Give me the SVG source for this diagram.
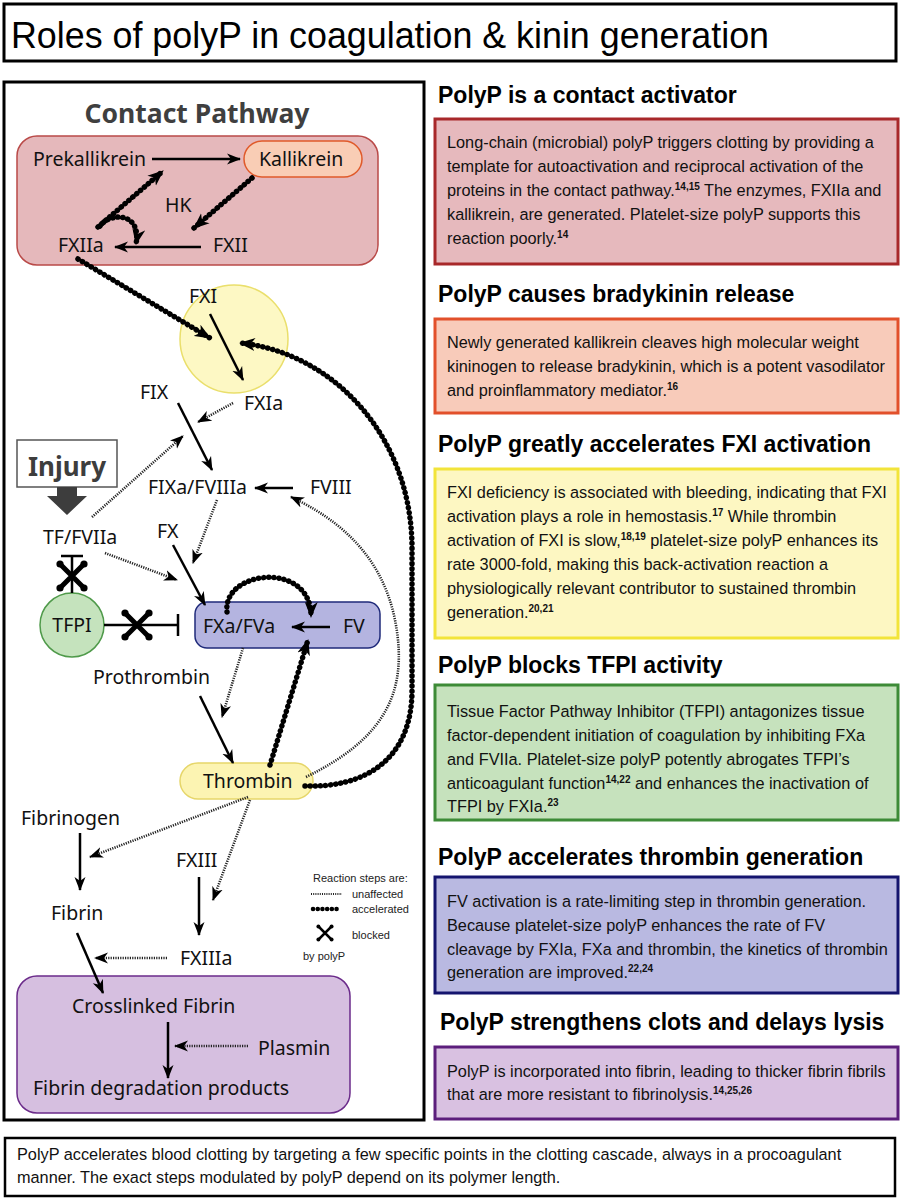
<svg xmlns="http://www.w3.org/2000/svg" xmlns:xlink="http://www.w3.org/1999/xlink" width="900" height="1200" viewBox="0 0 900 1200">
<defs>
<style>
.lbl{font-family:"Noto Sans","Open Sans",sans-serif;font-size:19.5px;fill:#111}
.hd{font-family:"Liberation Sans",Arial,sans-serif;font-size:23px;font-weight:bold;fill:#000}
.bd{font-family:"Liberation Sans",Arial,sans-serif;font-size:16.3px;fill:#111}
.sup{font-size:10px;font-weight:bold}
.sol{stroke:#000;stroke-width:2.5;fill:none;marker-end:url(#ah)}
.una{stroke:#222;stroke-width:2.6;stroke-dasharray:1.2 1.2;fill:none;marker-end:url(#ah)}
.acc{stroke:#000;stroke-width:5.5;stroke-dasharray:0.1 5;stroke-linecap:round;fill:none;marker-end:url(#ahb)}
.inh{stroke:#000;stroke-width:2.5;fill:none}
.leg{font-family:"Liberation Sans",Arial,sans-serif;font-size:11px;fill:#222}
</style>
<marker id="ah" markerUnits="userSpaceOnUse" markerWidth="14" markerHeight="12" viewBox="0 0 14 12" refX="13" refY="6" orient="auto">
<path d="M0,0.5 L14,6 L0,11.5 L4,6 z" fill="#000"/>
</marker>
<marker id="ahb" markerUnits="userSpaceOnUse" markerWidth="16" markerHeight="14" viewBox="0 0 16 14" refX="15" refY="7" orient="auto">
<path d="M0,0.5 L16,7 L0,13.5 L4.5,7 z" fill="#000"/>
</marker>
<g id="xm">
<path d="M-12,-12 L12,12 M12,-12 L-12,12" stroke="#000" stroke-width="5" stroke-linecap="round"/>
<circle cx="-12" cy="-12" r="3.6" fill="#000"/><circle cx="12" cy="12" r="3.6" fill="#000"/>
<circle cx="12" cy="-12" r="3.6" fill="#000"/><circle cx="-12" cy="12" r="3.6" fill="#000"/>
</g>
</defs>
<rect width="900" height="1200" fill="#fff"/>

<g id="title">
<rect x="4" y="4" width="892" height="57" fill="#fff" stroke="#000" stroke-width="3"/>
<text x="11" y="48" font-family="Liberation Sans,Arial,sans-serif" font-size="36" textLength="758" lengthAdjust="spacingAndGlyphs" fill="#000">Roles of polyP in coagulation &amp; kinin generation</text>
</g>

<g id="left-panel">
<rect x="4" y="82" width="420" height="1038" fill="#fff" stroke="#000" stroke-width="3"/>
<text x="197" y="123" text-anchor="middle" font-family="Noto Sans,Open Sans,sans-serif" font-size="26.5" font-weight="bold" fill="#3f3f3f">Contact Pathway</text>
</g>

<g id="contact-box"><rect x="17" y="136" width="361" height="129" rx="20" fill="#e5b8bb" stroke="#b94a48" stroke-width="1.5"/></g>
<g id="fibrin-box"><rect x="17" y="976" width="333" height="137" rx="20" fill="#d6bfe0" stroke="#6b2b8a" stroke-width="1.5"/></g>

<g id="prekallikrein"><text class="lbl" x="33" y="166">Prekallikrein</text></g>
<g id="kallikrein"><rect x="244" y="141" width="118" height="36" rx="18" fill="#f9cdb5" stroke="#e05a2a" stroke-width="1.5"/><text class="lbl" x="259" y="166">Kallikrein</text></g>
<g id="hk"><text class="lbl" x="165" y="212">HK</text></g>
<g id="fxiia"><text class="lbl" x="58" y="252">FXIIa</text></g>
<g id="fxii"><text class="lbl" x="213" y="252">FXII</text></g>
<g id="fxi"><circle cx="234" cy="339" r="54" fill="#fdf8c4" stroke="#eadf6c" stroke-width="1.5"/><text class="lbl" x="189" y="303">FXI</text></g>
<g id="fxia"><text class="lbl" x="244" y="410">FXIa</text></g>
<g id="fix"><text class="lbl" x="140" y="399">FIX</text></g>
<g id="injury">
<rect x="17" y="440" width="100" height="47" fill="#fff" stroke="#555" stroke-width="1.5"/>
<text x="67" y="476" text-anchor="middle" font-family="Noto Sans,Open Sans,sans-serif" font-size="26" font-weight="bold" fill="#3d3d3d">Injury</text>
<polygon points="57,487 77,487 77,496 87,496 67,515 47,496 57,496" fill="#3d3d3d"/>
</g>
<g id="fixa-fviiia"><text class="lbl" x="148" y="494">FIXa/FVIIIa</text></g>
<g id="fviii"><text class="lbl" x="310" y="494">FVIII</text></g>
<g id="tf-fviia"><text class="lbl" x="43" y="544">TF/FVIIa</text></g>
<g id="fx"><text class="lbl" x="157" y="538">FX</text></g>
<g id="tfpi"><circle cx="72" cy="625" r="32" fill="#c5e3bd" stroke="#4f9a4a" stroke-width="1.5"/><text class="lbl" x="72" y="632" text-anchor="middle">TFPI</text></g>
<g id="fxa-fva"><rect x="195" y="602" width="185" height="46" rx="12" fill="#b4b4e0" stroke="#1f2a7a" stroke-width="1.5"/><text class="lbl" x="203" y="633">FXa/FVa</text></g>
<g id="fv"><text class="lbl" x="343" y="633">FV</text></g>
<g id="prothrombin"><text class="lbl" x="93" y="684">Prothrombin</text></g>
<g id="thrombin"><rect x="180" y="763" width="133" height="36" rx="18" fill="#fcf4b2" stroke="#e6d66a" stroke-width="1.5"/><text class="lbl" x="203" y="788">Thrombin</text></g>
<g id="fibrinogen"><text class="lbl" x="21" y="825">Fibrinogen</text></g>
<g id="fxiii"><text class="lbl" x="176" y="867">FXIII</text></g>
<g id="fibrin"><text class="lbl" x="51" y="920">Fibrin</text></g>
<g id="fxiiia"><text class="lbl" x="180" y="965">FXIIIa</text></g>
<g id="crosslinked-fibrin"><text class="lbl" x="72" y="1013">Crosslinked Fibrin</text></g>
<g id="plasmin"><text class="lbl" x="258" y="1055">Plasmin</text></g>
<g id="fdp"><text class="lbl" x="33" y="1095">Fibrin degradation products</text></g>

<g id="connectors">
<path class="sol" d="M152,159 L240,159"/>
<path class="sol" d="M201,247 L115,247"/>
<path class="acc" d="M98,227 L163,171"/>
<path class="acc" d="M252,178 L194,228"/>
<path class="acc" d="M100,226 C110,212 142,212 136,244"/>
<path class="acc" d="M78,259 L210,338"/>
<path class="sol" d="M210,314 L243,380"/>
<path class="acc" d="M305,786 C362,788 412,762 412,690 L412,545 C410,432 330,352 240,343"/>
<path class="una" d="M233,403 L198,422"/>
<path class="sol" d="M178,403 L212,470"/>
<path class="una" d="M92,517 L183,436"/>
<path class="sol" d="M293,488 L255,488"/>
<path class="una" d="M306,777 C378,742 404,700 398,640 C392,580 362,530 291,497"/>
<path class="una" d="M217,500 L193,563"/>
<path class="sol" d="M173,545 L205,605"/>
<path class="una" d="M105,553 L177,580"/>
<path class="sol" d="M330,627 L292,627"/>
<path class="acc" d="M227,612 C222,570 312,560 311,617"/>
<path class="acc" d="M270,765 L308,640"/>
<path class="una" d="M243,648 L222,717"/>
<path class="sol" d="M200,696 L233,763"/>
<path class="una" d="M248,797 L90,857"/>
<path class="una" d="M250,800 L213,900"/>
<path class="sol" d="M80,833 L80,890"/>
<path class="sol" d="M199,877 L199,935"/>
<path class="una" d="M167,958 L95,958"/>
<path class="sol" d="M77,933 L103,993"/>
<path class="sol" d="M168,1022 L168,1078"/>
<path class="una" d="M248,1046 L175,1046"/>
<path class="inh" d="M72,593 L72,556 M61,556 L83,556"/>
<path class="inh" d="M104,625 L178,625 M178,614 L178,636"/>
<use xlink:href="#xm" href="#xm" x="72" y="576"/>
<use xlink:href="#xm" href="#xm" x="137" y="625"/>
</g>

<g id="legend">
<text class="leg" x="313" y="882">Reaction steps are:</text>
<path d="M311,894 L342,894" stroke="#222" stroke-width="2" stroke-dasharray="1 1.2"/>
<text class="leg" x="352" y="898">unaffected</text>
<path d="M313,909 L341,909" stroke="#000" stroke-width="4.5" stroke-dasharray="0.1 4.6" stroke-linecap="round"/>
<text class="leg" x="352" y="913">accelerated</text>
<use xlink:href="#xm" href="#xm" transform="translate(325,933) scale(0.55)"/>
<text class="leg" x="352" y="939">blocked</text>
<text class="leg" x="303" y="960">by polyP</text>
</g>

<g id="box-contact">
<text class="hd" x="438" y="103">PolyP is a contact activator</text>
<rect x="435" y="119" width="463" height="145" fill="#e6b9bd" stroke="#a8282a" stroke-width="3"/>
<text class="bd" x="447" y="148">Long-chain (microbial) polyP triggers clotting by providing a</text>
<text class="bd" x="447" y="172">template for autoactivation and reciprocal activation of the</text>
<text class="bd" x="447" y="196">proteins in the contact pathway.<tspan class="sup" dy="-6">14,15</tspan><tspan dy="6"> The enzymes, FXIIa and</tspan></text>
<text class="bd" x="447" y="220">kallikrein, are generated. Platelet-size polyP supports this</text>
<text class="bd" x="447" y="244">reaction poorly.<tspan class="sup" dy="-6">14</tspan></text>
</g>

<g id="box-bradykinin">
<text class="hd" x="438" y="302">PolyP causes bradykinin release</text>
<rect x="435" y="319" width="463" height="94" fill="#f8cbba" stroke="#e2502b" stroke-width="3"/>
<text class="bd" x="447" y="348">Newly generated kallikrein cleaves high molecular weight</text>
<text class="bd" x="447" y="372">kininogen to release bradykinin, which is a potent vasodilator</text>
<text class="bd" x="447" y="396">and proinflammatory mediator.<tspan class="sup" dy="-6">16</tspan></text>
</g>

<g id="box-fxi">
<text class="hd" x="438" y="452">PolyP greatly accelerates FXI activation</text>
<rect x="435" y="469" width="463" height="169" fill="#fdf7c2" stroke="#f2e43a" stroke-width="3"/>
<text class="bd" x="447" y="498">FXI deficiency is associated with bleeding, indicating that FXI</text>
<text class="bd" x="447" y="522">activation plays a role in hemostasis.<tspan class="sup" dy="-6">17</tspan><tspan dy="6"> While thrombin</tspan></text>
<text class="bd" x="447" y="546">activation of FXI is slow,<tspan class="sup" dy="-6">18,19</tspan><tspan dy="6"> platelet-size polyP enhances its</tspan></text>
<text class="bd" x="447" y="570">rate 3000-fold, making this back-activation reaction a</text>
<text class="bd" x="447" y="594">physiologically relevant contributor to sustained thrombin</text>
<text class="bd" x="447" y="618">generation.<tspan class="sup" dy="-6">20,21</tspan></text>
</g>

<g id="box-tfpi">
<text class="hd" x="438" y="673">PolyP blocks TFPI activity</text>
<rect x="435" y="685" width="463" height="135" fill="#c6e2bd" stroke="#3d8b37" stroke-width="3"/>
<text class="bd" x="447" y="717">Tissue Factor Pathway Inhibitor (TFPI) antagonizes tissue</text>
<text class="bd" x="447" y="741">factor-dependent initiation of coagulation by inhibiting FXa</text>
<text class="bd" x="447" y="765">and FVIIa. Platelet-size polyP potently abrogates TFPI’s</text>
<text class="bd" x="447" y="789">anticoagulant function<tspan class="sup" dy="-6">14,22</tspan><tspan dy="6"> and enhances the inactivation of</tspan></text>
<text class="bd" x="447" y="812">TFPI by FXIa.<tspan class="sup" dy="-6">23</tspan></text>
</g>

<g id="box-thrombin">
<text class="hd" x="438" y="865">PolyP accelerates thrombin generation</text>
<rect x="435" y="877" width="463" height="116" fill="#b9b9e1" stroke="#14146e" stroke-width="3"/>
<text class="bd" x="447" y="907">FV activation is a rate-limiting step in thrombin generation.</text>
<text class="bd" x="447" y="931">Because platelet-size polyP enhances the rate of FV</text>
<text class="bd" x="447" y="955">cleavage by FXIa, FXa and thrombin, the kinetics of thrombin</text>
<text class="bd" x="447" y="978">generation are improved.<tspan class="sup" dy="-6">22,24</tspan></text>
</g>

<g id="box-clots">
<text class="hd" x="440" y="1030">PolyP strengthens clots and delays lysis</text>
<rect x="435" y="1047" width="463" height="72" fill="#d9c1e1" stroke="#5c1e7c" stroke-width="3"/>
<text class="bd" x="447" y="1077">PolyP is incorporated into fibrin, leading to thicker fibrin fibrils</text>
<text class="bd" x="447" y="1100">that are more resistant to fibrinolysis.<tspan class="sup" dy="-6">14,25,26</tspan></text>
</g>

<g id="summary">
<rect x="5" y="1138" width="890" height="58" fill="#fff" stroke="#000" stroke-width="2.5"/>
<text class="bd" x="17" y="1160" font-size="15.5">PolyP accelerates blood clotting by targeting a few specific points in the clotting cascade, always in a procoagulant</text>
<text class="bd" x="17" y="1183" font-size="15.5">manner. The exact steps modulated by polyP depend on its polymer length.</text>
</g>
</svg>
